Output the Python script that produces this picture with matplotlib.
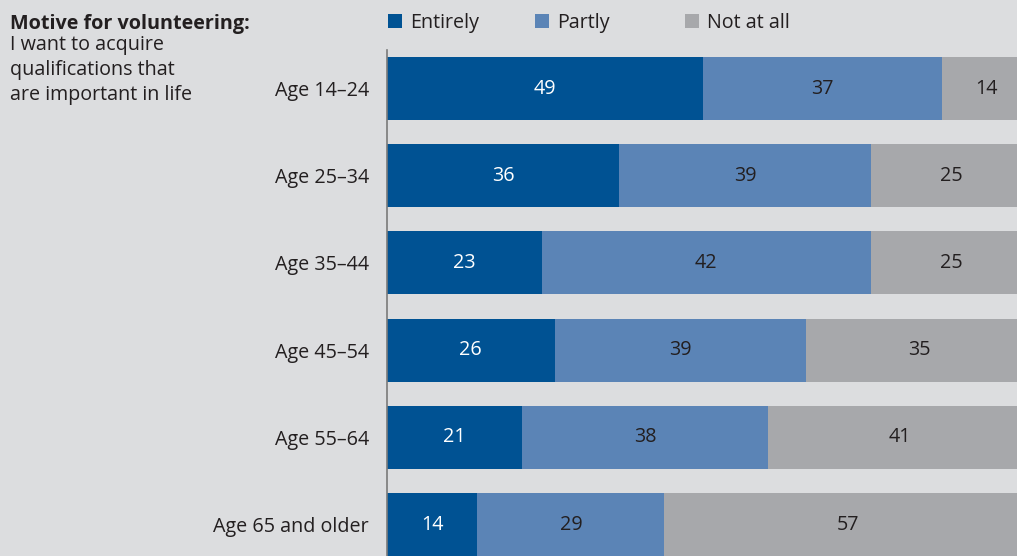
import matplotlib
matplotlib.use("Agg")
import matplotlib.pyplot as plt
from matplotlib.patches import Rectangle

plt.rcParams['font.family'] = ['Open Sans', 'DejaVu Sans']

categories = ["Age 14–24", "Age 25–34", "Age 35–44", "Age 45–54", "Age 55–64", "Age 65 and older"]
series_names = ["Entirely", "Partly", "Not at all"]
# bar lengths (shares in %) as drawn
entirely = [49, 36, 24, 26, 21, 14]
partly = [37, 39, 51, 39, 38, 29]
not_at_all = [14, 25, 25, 35, 41, 57]
# value labels as printed on the bars
entirely_labels = ["49", "36", "23", "26", "21", "14"]
partly_labels = ["37", "39", "42", "39", "38", "29"]
not_at_all_labels = ["14", "25", "25", "35", "41", "57"]

title = "Motive for volunteering:"
subtitle = "I want to acquire\nqualifications that\nare important in life"

colors = ["#005293", "#5b84b6", "#a7a8ab"]
text_colors = ["white", "#231f20", "#231f20"]
bg = "#dcdddf"
dark = "#231f20"
fs = 14.2

W, H = 1017, 556
fig = plt.figure(figsize=(W / 100, H / 100), dpi=100, facecolor=bg)
ax = fig.add_axes([387 / W, 0, 1 - 387 / W, (H - 50) / H])
ax.set_facecolor(bg)

y = list(range(len(categories)))
series = [entirely, partly, not_at_all]
labels = [entirely_labels, partly_labels, not_at_all_labels]
left = [0] * len(categories)
for vals, labs, c, tc in zip(series, labels, colors, text_colors):
    ax.barh(y, vals, left=left, height=0.722, color=c, linewidth=0)
    for yi, v, l, lab in zip(y, vals, left, labs):
        ax.text(l + v / 2, yi, lab, ha="center", va="center", color=tc, fontsize=fs)
    left = [a + b for a, b in zip(left, vals)]

ax.set_xlim(0, 630 / 6.45)
ax.set_ylim(5 + 31.5 / 87.2, -(88.5 - 50) / 87.2)
ax.set_yticks(y)
ax.set_yticklabels(categories, fontsize=fs, color=dark)
ax.tick_params(axis="y", length=0, pad=13)
ax.set_xticks([])
for s in ["top", "right", "bottom"]:
    ax.spines[s].set_visible(False)
ax.spines["left"].set_color("#7a7a7a")
ax.spines["left"].set_linewidth(1.2)

# title and subtitle
fig.text(10 / W, 1 - 24 / H, title, fontsize=fs, fontweight="bold", color=dark, va="center", ha="left")
fig.text(10 / W, 1 - 35 / H, subtitle, fontsize=fs, color=dark, va="top", ha="left", linespacing=1.33)

# legend
leg_x = [388, 535, 685]
for name, c, lx in zip(series_names, colors, leg_x):
    fig.add_artist(Rectangle((lx / W, 1 - 28 / H), 14 / W, 14 / H, transform=fig.transFigure,
                             facecolor=c, edgecolor="none"))
    fig.text((lx + 22) / W, 1 - 23 / H, name, fontsize=fs, color=dark, va="center", ha="left")

fig.savefig("out.png", dpi=100, facecolor=bg)
